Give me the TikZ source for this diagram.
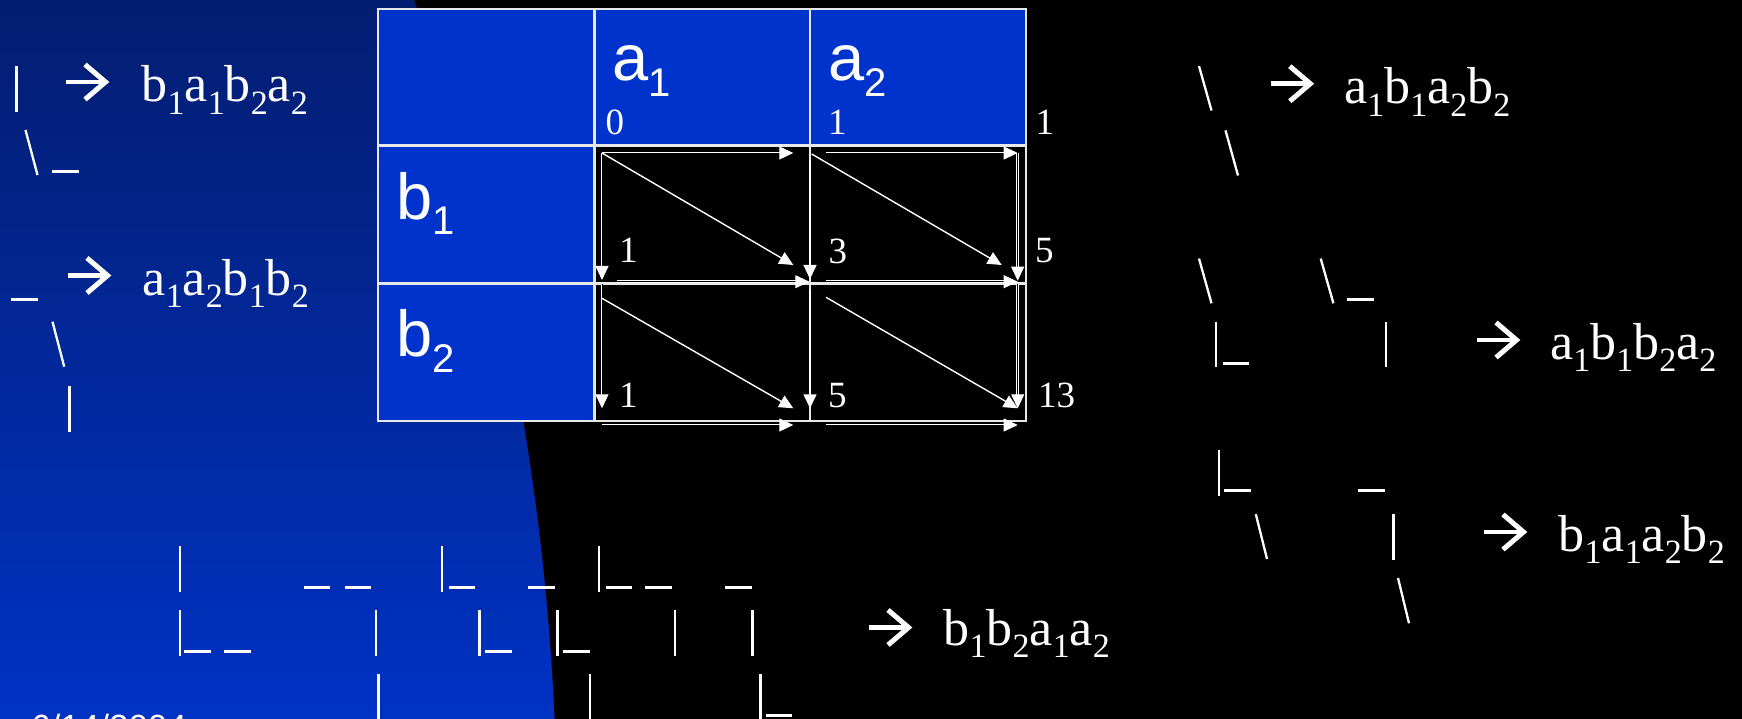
\documentclass[tikz,border=0pt]{standalone}
\usepackage{fontspec}
\newfontfamily\sansf{Liberation Sans}
\newfontfamily\seriff{Liberation Serif}
\usetikzlibrary{arrows.meta}
\definecolor{bgtop}{RGB}{3,29,112}
\definecolor{bgbot}{RGB}{0,50,196}
\definecolor{cellblue}{RGB}{0,51,204}
\definecolor{gridc}{RGB}{232,232,232}
\newcommand\sbA[1]{\raisebox{-15.5pt}{\fontsize{40}{40}\selectfont #1}}
\newcommand\sbT[1]{\raisebox{-12.5pt}{\fontsize{34}{34}\selectfont #1}}
\tikzset{
  hdr/.style={font=\sansf\fontsize{65}{65}\selectfont, text=white, inner sep=0pt, anchor=base west},
  lbl/.style={font=\seriff\fontsize{52}{52}\selectfont, text=white, inner sep=0pt, anchor=base west},
  num/.style={font=\seriff\fontsize{37}{37}\selectfont, text=white, inner sep=0pt, anchor=base west},
  bar/.style={white, line width=2.3pt},
  usc/.style={white, line width=3pt},
  gridline/.style={gridc, line width=2.2pt},
  dbl/.style={draw=white, line width=0.9pt, double=black, double distance=0.9pt, -{Triangle[length=14pt,width=13pt]}},
  sgl/.style={draw=white, line width=1.4pt, -{Triangle[length=14pt,width=13pt]}},
  bigarrow/.pic={
    \draw[white, line width=4.7pt] (0,0) -- (38,0);
    \draw[white, line width=5pt, miter limit=10] (19,-17.5) -- (39.5,0) -- (19,17.5);
  }
}
\begin{document}
\begin{tikzpicture}[x=1pt,y=-1pt]
\useasboundingbox (0,0) rectangle (1742,719);
% background
\begin{scope}
  \clip (0,0) rectangle (1742,719);
  \fill[black] (0,0) rectangle (1742,719);
  \clip (-1913,830) circle[radius=2470pt];
  \shade[top color=bgtop, bottom color=bgbot] (0,0) rectangle (620,719);
\end{scope}
% table fills
\fill[cellblue] (378,9) rectangle (1026,145.5);
\fill[cellblue] (378,145.5) rectangle (594.5,421);
\fill[black] (594.5,145.5) rectangle (1026,421);
% grid
\draw[gridline] (378,9) rectangle (1026,421);
\draw[gridline] (378,145.5) -- (1026,145.5);
\draw[gridline] (378,283.5) -- (1026,283.5);
\draw[gridline] (594.5,9) -- (594.5,421);
\draw[gridline] (810,9) -- (810,421);
% grid point coordinates
\coordinate (p00) at (602,153);
\coordinate (h01) at (793.3,153);
\coordinate (s01) at (826,153);
\coordinate (p02) at (1017.7,153);
\coordinate (v10) at (602,280);
\coordinate (d11) at (793.3,265);
\coordinate (t11) at (810,160);
\coordinate (v11) at (810,279);
\coordinate (s12) at (811.7,154);
\coordinate (d12) at (1001.7,265);
\coordinate (v12) at (1017.7,280.7);
\coordinate (s1h) at (617.3,281.7);
\coordinate (e1h) at (809.3,281.7);
\coordinate (s1k) at (826,281.7);
\coordinate (e1k) at (1017.7,281.7);
\coordinate (p20) at (602,284);
\coordinate (v20) at (602,408.3);
\coordinate (q20) at (602,298.3);
\coordinate (d21) at (793.3,408.3);
\coordinate (t21) at (810,290);
\coordinate (v21) at (810,408.3);
\coordinate (q21) at (826,297.3);
\coordinate (d22) at (1017.7,408.3);
\coordinate (p22) at (1017.7,284);
\coordinate (b0s) at (602,425);
\coordinate (b0e) at (793.3,425);
\coordinate (b1s) at (826,425);
\coordinate (b1e) at (1017.7,425);
% arrows in the table
\draw[dbl] (p00) -- (h01);
\draw[dbl] (s01) -- (p02);
\draw[dbl] (p00) -- (v10);
\draw[sgl] (p00) -- (d11);
\draw[sgl] (t11) -- (v11);
\draw[sgl] (s12) -- (d12);
\draw[dbl] (p02) -- (v12);
\draw[dbl] (s1h) -- (e1h);
\draw[dbl] (s1k) -- (e1k);
\draw[dbl] (p20) -- (v20);
\draw[sgl] (q20) -- (d21);
\draw[sgl] (t21) -- (v21);
\draw[sgl] (q21) -- (d22);
\draw[dbl] (p22) -- (d22);
\draw[dbl] (b0s) -- (b0e);
\draw[dbl] (b1s) -- (b1e);
% table labels
\node[hdr] (a1) at (612,81) {a\sbA{1}};
\node[hdr] (a2) at (828.5,81) {a\sbA{2}};
\node[hdr] (b1) at (396,219.3) {b\sbA{1}};
\node[hdr] (b2) at (396,356.7) {b\sbA{2}};
\node[num] (n00) at (605.5,135) {0};
\node[num] (n01) at (828,135) {1};
\node[num] (n02) at (1035.5,135) {1};
\node[num] (n10) at (619,263) {1};
\node[num] (n11) at (828.5,264) {3};
\node[num] (n12) at (1035,263) {5};
\node[num] (n20) at (619,407.3) {1};
\node[num] (n21) at (828,407.3) {5};
\node[num] (n22) at (1038,407.3) {13};
% order labels
\node[lbl] (o1) at (141.5,101.7) {b\sbT{1}a\sbT{1}b\sbT{2}a\sbT{2}};
\node[lbl] (o2) at (142.5,295) {a\sbT{1}a\sbT{2}b\sbT{1}b\sbT{2}};
\node[lbl] (o3) at (1344,103.6) {a\sbT{1}b\sbT{1}a\sbT{2}b\sbT{2}};
\node[lbl] (o4) at (1550,359) {a\sbT{1}b\sbT{1}b\sbT{2}a\sbT{2}};
\node[lbl] (o5) at (1558.5,551.3) {b\sbT{1}a\sbT{1}a\sbT{2}b\sbT{2}};
\node[lbl] (o6) at (943.5,645) {b\sbT{1}b\sbT{2}a\sbT{1}a\sbT{2}};
% big arrows
\pic at (66,82) {bigarrow};
\pic at (68,275.5) {bigarrow};
\pic at (1270.8,83.7) {bigarrow};
\pic at (1477,340) {bigarrow};
\pic at (1484,532) {bigarrow};
\pic at (869,627.5) {bigarrow};
% left path sketches
\draw[bar] (16.5,66) -- (16.5,111.7);
\draw[bar] (25.5,130) -- (37.5,175);
\draw[usc] (51.7,171.3) -- (78.8,171.3);
\draw[usc] (10.7,299) -- (37.9,299);
\draw[bar] (52.5,321.7) -- (64.2,366.7);
\draw[bar] (69.5,386) -- (69.5,431.7);
% right path sketches
\draw[bar] (1199,66.1) -- (1211.5,110.5);
\draw[bar] (1225.5,130.4) -- (1238,175.5);
\draw[bar] (1199,258.6) -- (1211.5,303.3);
\draw[bar] (1320.7,258.6) -- (1333.4,303.3);
\draw[usc] (1347,299.1) -- (1373.9,299.1);
\draw[bar] (1216,321.7) -- (1216,366.9);
\draw[usc] (1222.5,363) -- (1248.9,363);
\draw[bar] (1386,321.7) -- (1386,366.9);
\draw[bar] (1219,450) -- (1219,495.8);
\draw[usc] (1224.4,490.9) -- (1251.2,490.9);
\draw[usc] (1358.4,490.9) -- (1384.8,490.9);
\draw[bar] (1255.8,514.2) -- (1267,559);
\draw[bar] (1393.5,514.2) -- (1393.5,559.8);
\draw[bar] (1398,578) -- (1409,623.3);
% bottom path sketches, row 1
\draw[bar] (179.7,546) -- (179.7,591.7);
\draw[usc] (303.6,587.3) -- (330,587.3);
\draw[usc] (344.7,587.3) -- (371.1,587.3);
\draw[bar] (442.2,546) -- (442.2,591.7);
\draw[usc] (448.8,587.3) -- (475.3,587.3);
\draw[usc] (528,587.3) -- (555.2,587.3);
\draw[bar] (599.2,546) -- (599.2,591.7);
\draw[usc] (605.8,587.3) -- (632.2,587.3);
\draw[usc] (645.4,587.3) -- (671.8,587.3);
\draw[usc] (725.3,587.3) -- (751.7,587.3);
% row 2
\draw[bar] (179.7,610) -- (179.7,655.7);
\draw[usc] (184,651.3) -- (211.2,651.3);
\draw[usc] (223.7,651.3) -- (250.8,651.3);
\draw[bar] (376.2,610) -- (376.2,655.7);
\draw[bar] (479.6,610) -- (479.6,655.7);
\draw[usc] (484.8,651.3) -- (511.9,651.3);
\draw[bar] (557.4,610) -- (557.4,655.7);
\draw[usc] (562.5,651.3) -- (589.7,651.3);
\draw[bar] (674.7,610) -- (674.7,655.7);
\draw[bar] (752.5,610) -- (752.5,655.7);
% row 3
\draw[bar] (378.4,674.3) -- (378.4,725);
\draw[bar] (589.7,674.3) -- (589.7,725);
\draw[bar] (760.5,674.3) -- (760.5,725);
\draw[usc] (765.7,715.3) -- (792.1,715.3);
% date
\node[font=\sansf\fontsize{35}{35}\selectfont, text=white, inner sep=0pt, anchor=base west] (date) at (31,739.4) {6/14/2004};
\end{tikzpicture}
\end{document}
